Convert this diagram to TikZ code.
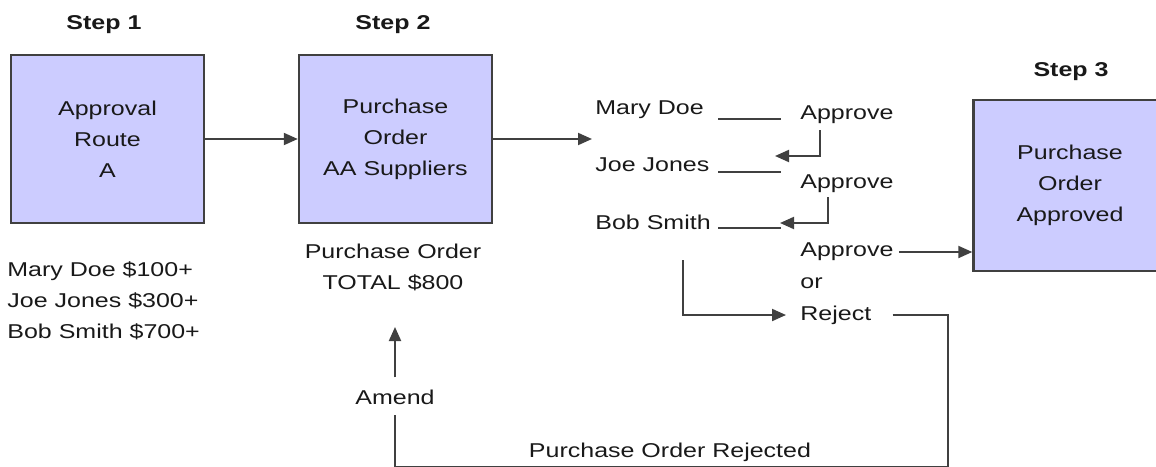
\documentclass[tikz,border=0pt]{standalone}
\usepackage{fontspec}
\setmainfont{Liberation Sans}[FakeStretch=1.25]
\usetikzlibrary{arrows.meta}
\definecolor{boxfill}{RGB}{204,204,255}
\definecolor{ink}{RGB}{64,64,64}

\begin{document}
\begin{tikzpicture}[x=0.5pt, y=-0.5pt,
    >={Triangle[length=7pt,width=6pt]},
    every node/.style={font=\fontsize{10}{15.5}\selectfont, text=black!90, inner sep=0pt},
    stepbox/.style={draw=ink, fill=boxfill, line width=1.2pt, minimum width=96.5pt, minimum height=84pt, align=center},
    title/.style={font=\fontsize{10}{12}\selectfont\bfseries},
    flow/.style={draw=ink, line width=1pt},
    lbl/.style={anchor=west}]
\useasboundingbox (0,0) rectangle (1156,466);

% steps
\node[title] (s1) at (104,25) {Step 1};
\node[title] (s2) at (393,25) {Step 2};
\node[title] (s3) at (1071,72) {Step 3};

% boxes
\node[stepbox] (route) at (107.5,139) {Approval\\Route\\A};
\node[stepbox] (order) at (395.5,139) {Purchase\\Order\\AA Suppliers};
\node[stepbox, minimum height=85.5pt] (approved) at (1070,185.5) {Purchase\\Order\\Approved};

% notes under the boxes
\node[align=left, anchor=west] (limits) at (7,301) {Mary Doe \$100+\\Joe Jones \$300+\\Bob Smith \$700+};
\node[align=center] (total) at (393,267) {Purchase Order\\TOTAL \$800};

% approvers
\node[lbl] (mary) at (595,110) {Mary Doe};
\node[lbl] (joe) at (595,165) {Joe Jones};
\node[lbl] (bob) at (595,222) {Bob Smith};
\node[lbl] (ok1) at (800,115) {Approve};
\node[lbl] (ok2) at (800,184) {Approve};
\node[lbl] (ok3) at (800,252) {Approve};
\node[lbl] (or) at (800,283) {or};
\node[lbl] (reject) at (800,315) {Reject};
\node (amend) at (395,397) {Amend};
\node (rejected) at (670,452) {Purchase Order Rejected};

% free ends
\coordinate (entry) at (592,139);
\coordinate (m1) at (718,119); \coordinate (m2) at (781,119);
\coordinate (j1) at (718,172); \coordinate (j2) at (781,172);
\coordinate (b1) at (718,228); \coordinate (b2) at (781,228);
\coordinate (up1) at (775,156);
\coordinate (up2) at (780,223);
\coordinate (fork) at (683,260);
\coordinate (corner) at (948,467);
\coordinate (tip) at (395,327);

\draw[flow,->] (route) -- (order);
\draw[flow,->] (order.east) -- (entry);
\draw[flow] (m1) -- (m2) (j1) -- (j2) (b1) -- (b2);
\draw[flow,->] ([shift={(10pt,-3pt)}]ok1.south west) |- (up1);
\draw[flow,->] ([shift={(14pt,-2pt)}]ok2.south west) |- (up2);
\draw[flow,->] ([xshift=2.5pt]ok3.east) -- (ok3.east -| approved.west);
\draw[flow,->] (fork) |- ([xshift=-7pt]reject.west);
\draw[flow] ([xshift=10.5pt]reject.east) -| (corner) -| ([yshift=-5pt]amend.south);
\draw[flow,->] ([yshift=6pt]amend.north) -- (tip);
\end{tikzpicture}
\end{document}
